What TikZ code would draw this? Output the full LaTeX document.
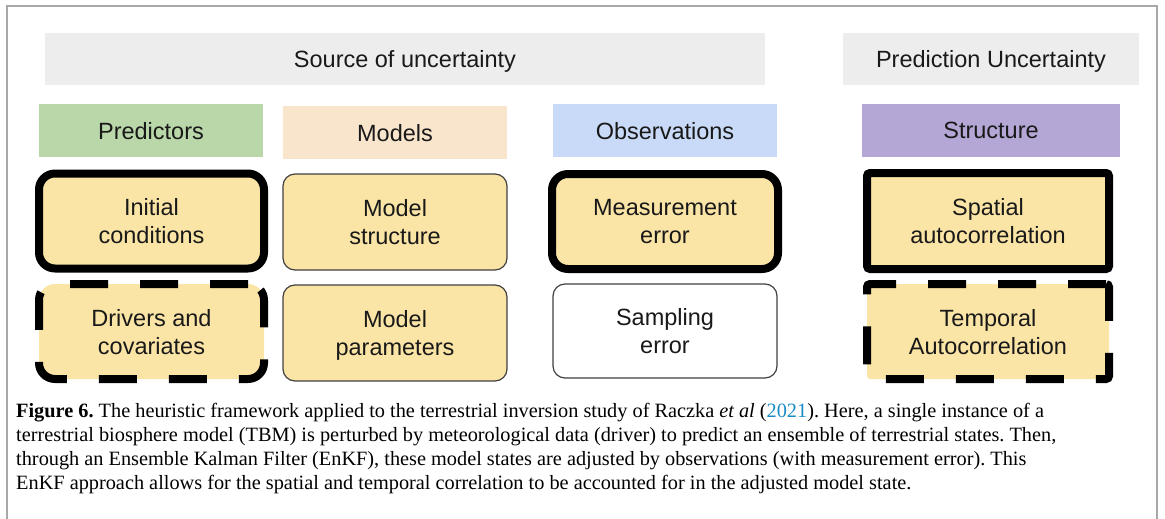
\documentclass[tikz,border=0pt]{standalone}
\usepackage{fontspec}
\setmainfont{Liberation Serif}
\newfontfamily\arialf{Liberation Sans}
\definecolor{hdrgray}{HTML}{EDEDED}
\definecolor{pgreen}{HTML}{B9D7A8}
\definecolor{mpeach}{HTML}{F9E4CC}
\definecolor{oblue}{HTML}{C9DAF8}
\definecolor{spurple}{HTML}{B4A7D6}
\definecolor{yel}{HTML}{FBE5A6}
\definecolor{framegray}{HTML}{A8A8A8}
\definecolor{linkblue}{HTML}{1A8BC7}
\frenchspacing
\begin{document}
\begin{tikzpicture}[x=1pt,y=-1pt,
  lbl/.style={font=\arialf\fontsize{23.5}{28}\selectfont, text=black!90, align=center, inner sep=0pt, text depth=0pt},
  hdr/.style={lbl, fill=hdrgray, minimum height=52},
  cat/.style={lbl, minimum width=224, minimum height=53},
  thinbox/.style={lbl, draw=black!75, line width=1.2, rounded corners=12, fill=yel, minimum width=224, minimum height=96},
  thickbox/.style={lbl, draw=black, line width=8, rounded corners=16, fill=yel, minimum width=225, minimum height=95},
  dashbox/.style={thickbox, dash pattern=on 38pt off 32pt},
  caption/.style={font=\fontsize{20.3}{24}\selectfont, align=left, anchor=north west, inner sep=0pt}
]
\useasboundingbox (0,0) rectangle (1165,519);
\draw[framegray, line width=1.5] (7,519) -- (7,6) -- (1157,6) -- (1157,519);

% headers
\node[hdr, minimum width=720] (src) at (405,59) {Source of uncertainty};
\node[hdr, minimum width=296] (pred) at (991,59) {Prediction Uncertainty};

% categories
\node[cat, fill=pgreen] (predictors) at (151,130.5) {Predictors};
\node[cat, fill=mpeach] (models) at (395,132.5) {Models};
\node[cat, fill=oblue] (obs) at (665,130.5) {Observations};
\node[cat, fill=spurple, minimum width=258] (struct) at (991,130.5) {Structure};

% content boxes
\node[thickbox] (ic) at (151.5,221) {Initial\\conditions};
\node[dashbox] (drv) at (151.5,331.5) {Drivers and\\covariates};
\node[thinbox] (mstruct) at (395,222) {Model\\structure};
\node[thinbox] (mparam) at (395,333) {Model\\parameters};
\node[thickbox, minimum width=226] (meas) at (665,221.5) {Measurement\\error};
\node[thinbox, fill=white, minimum height=94] (samp) at (665,331) {Sampling\\error};
\node[thickbox, rounded corners=3, minimum width=242, minimum height=96] (spat) at (988,221) {Spatial\\autocorrelation};
\node[dashbox, rounded corners=3, minimum width=242] (temp) at (988,331.5) {Temporal\\Autocorrelation};

% caption
\node[caption] (cap) at (16,403) {\textbf{Figure 6.} The heuristic framework applied to the terrestrial inversion study of Raczka \textit{et al} ({\color{linkblue}2021}). Here, a single instance of a\\
terrestrial biosphere model (TBM) is perturbed by meteorological data (driver) to predict an ensemble of terrestrial states. Then,\\
through an Ensemble Kalman Filter (EnKF), these model states are adjusted by observations (with measurement error). This\\
EnKF approach allows for the spatial and temporal correlation to be accounted for in the adjusted model state.};
\end{tikzpicture}
\end{document}
